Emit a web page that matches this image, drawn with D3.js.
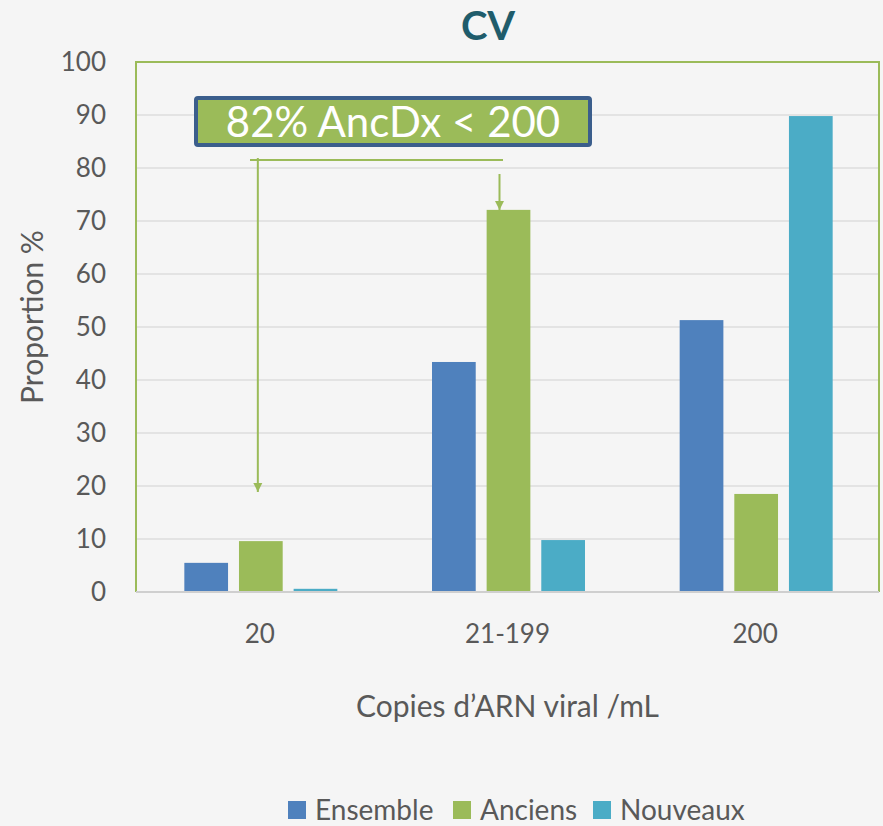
<!DOCTYPE html>
<html>
<head>
<meta charset="utf-8">
<script src="https://cdn.jsdelivr.net/npm/d3@7"></script>
<style>
  body { margin: 0; background: #f5f5f5; }
</style>
</head>
<body>
<div id="chart"></div>
<script>
// chart values
var categories = ['20', '21-199', '200'];
var seriesNames = ['Ensemble', 'Anciens', 'Nouveaux'];
var ensemble = [5.5, 43.4, 51.3];
var anciens = [9.6, 72.1, 18.5];
var nouveaux = [0.6, 9.8, 89.8];
var yTicks = [0, 10, 20, 30, 40, 50, 60, 70, 80, 90, 100];
var colors = ['#4F81BD', '#9BBB59', '#4BACC6'];

var attrs = {
    svgWidth: 883,
    svgHeight: 826,
    marginLeft: 136,
    marginRight: 4,
    marginTop: 62,
    chartBottom: 592,
    groupWidth: 153,
    font: 'Lato, "Open Sans", sans-serif',
    textFill: '#595959',
    bg: '#f5f5f5'
};

var svg = d3.select('#chart').append('svg')
    .attr('width', attrs.svgWidth)
    .attr('height', attrs.svgHeight)
    .style('font-family', attrs.font)
    .style('background', attrs.bg);

var x = d3.scaleBand()
    .domain(categories)
    .range([attrs.marginLeft, attrs.svgWidth - attrs.marginRight]);

var xInner = d3.scaleBand()
    .domain(seriesNames)
    .range([0, attrs.groupWidth])
    .paddingInner(0.2);

var y = d3.scaleLinear()
    .domain([0, 100])
    .range([attrs.chartBottom, attrs.marginTop]);

// gridlines
svg.append('g').selectAll('line')
    .data(yTicks.slice(1, -1))
    .enter().append('line')
    .attr('x1', attrs.marginLeft)
    .attr('x2', attrs.svgWidth - attrs.marginRight)
    .attr('y1', d => y(d))
    .attr('y2', d => y(d))
    .attr('stroke', '#dcdcdc')
    .attr('stroke-width', 1.5);

// bars
var data = categories.map((c, i) => ({
    cat: c,
    vals: [ensemble[i], anciens[i], nouveaux[i]]
}));

var groups = svg.append('g').selectAll('g')
    .data(data)
    .enter().append('g')
    .attr('transform', d => 'translate(' + (x(d.cat) + x.bandwidth() / 2 - attrs.groupWidth / 2 + 1) + ',0)');

groups.selectAll('rect')
    .data(d => d.vals.map((v, i) => ({ name: seriesNames[i], v: v, i: i })))
    .enter().append('rect')
    .attr('x', d => xInner(d.name))
    .attr('width', xInner.bandwidth())
    .attr('y', d => y(d.v))
    .attr('height', d => y(0) - y(d.v))
    .attr('fill', d => colors[d.i]);

// plot border (green on left, top, right) and grey base line
var x0 = attrs.marginLeft, x1 = attrs.svgWidth - attrs.marginRight;
svg.append('path')
    .attr('d', 'M' + x0 + ',' + y(0) + 'V' + y(100) + 'H' + x1 + 'V' + y(0))
    .attr('fill', 'none')
    .attr('stroke', '#9BBB59')
    .attr('stroke-width', 2);

svg.append('line')
    .attr('x1', x0).attr('x2', x1)
    .attr('y1', y(0)).attr('y2', y(0))
    .attr('stroke', '#cfcfcf')
    .attr('stroke-width', 2);

// y tick labels
svg.append('g').selectAll('text')
    .data(yTicks)
    .enter().append('text')
    .attr('x', 106)
    .attr('y', d => y(d))
    .attr('dy', '0.36em')
    .attr('text-anchor', 'end')
    .attr('font-size', 26)
    .attr('fill', attrs.textFill)
    .text(d => d);

// x tick labels
svg.append('g').selectAll('text')
    .data(categories)
    .enter().append('text')
    .attr('x', d => x(d) + x.bandwidth() / 2)
    .attr('y', 643)
    .attr('text-anchor', 'middle')
    .attr('font-size', 26)
    .attr('fill', attrs.textFill)
    .text(d => d);

// axis titles
svg.append('text')
    .attr('x', (x0 + x1) / 2)
    .attr('y', 717)
    .attr('text-anchor', 'middle')
    .attr('font-size', 30)
    .attr('fill', attrs.textFill)
    .text('Copies d\u2019ARN viral /mL');

svg.append('text')
    .attr('transform', 'translate(43,' + ((y(0) + y(100)) / 2 - 10) + ') rotate(-90)')
    .attr('text-anchor', 'middle')
    .attr('font-size', 30)
    .attr('fill', attrs.textFill)
    .text('Proportion %');

// title
svg.append('text')
    .attr('x', 488)
    .attr('y', 40)
    .attr('text-anchor', 'middle')
    .attr('font-size', 40)
    .attr('font-weight', 'bold')
    .attr('fill', '#1F5C6B')
    .text('CV');

// annotation arrows
var green = '#9BBB59';
svg.append('defs').append('marker')
    .attr('id', 'arrowHead')
    .attr('viewBox', '0 0 10 10')
    .attr('refX', 10).attr('refY', 5)
    .attr('markerWidth', 4.5).attr('markerHeight', 5)
    .attr('orient', 'auto')
    .attr('markerUnits', 'strokeWidth')
    .append('path')
    .attr('d', 'M0,0L10,5L0,10Z')
    .attr('fill', green);

var leftX = x('20') + x.bandwidth() / 2 - 2;
var rightX = x('21-199') + x.bandwidth() / 2 - 8;
svg.append('line')
    .attr('x1', 250).attr('x2', 503)
    .attr('y1', 160).attr('y2', 160)
    .attr('stroke', green).attr('stroke-width', 2);
svg.append('line')
    .attr('x1', leftX).attr('x2', leftX)
    .attr('y1', 158).attr('y2', 492)
    .attr('stroke', green).attr('stroke-width', 2)
    .attr('marker-end', 'url(#arrowHead)');
svg.append('line')
    .attr('x1', rightX).attr('x2', rightX)
    .attr('y1', 174).attr('y2', 210)
    .attr('stroke', green).attr('stroke-width', 2)
    .attr('marker-end', 'url(#arrowHead)');

// annotation box
svg.append('rect')
    .attr('x', 196).attr('y', 98)
    .attr('width', 394).attr('height', 47)
    .attr('rx', 2)
    .attr('fill', green)
    .attr('stroke', '#3B5E8C')
    .attr('stroke-width', 4);

svg.append('text')
    .attr('x', 393)
    .attr('y', 137)
    .attr('text-anchor', 'middle')
    .attr('font-size', 42)
    .attr('fill', '#ffffff')
    .text('82% AncDx < 200');

// legend
var legend = svg.append('g').attr('transform', 'translate(288,801)');
var offsets = [0, 165, 305];
var items = legend.selectAll('g')
    .data(seriesNames)
    .enter().append('g')
    .attr('transform', (d, i) => 'translate(' + offsets[i] + ',0)');
items.append('rect')
    .attr('width', 18).attr('height', 18)
    .attr('fill', (d, i) => colors[i]);
items.append('text')
    .attr('x', 27)
    .attr('y', 19)
    .attr('font-size', 28)
    .attr('fill', attrs.textFill)
    .text(d => d);
</script>
</body>
</html>
